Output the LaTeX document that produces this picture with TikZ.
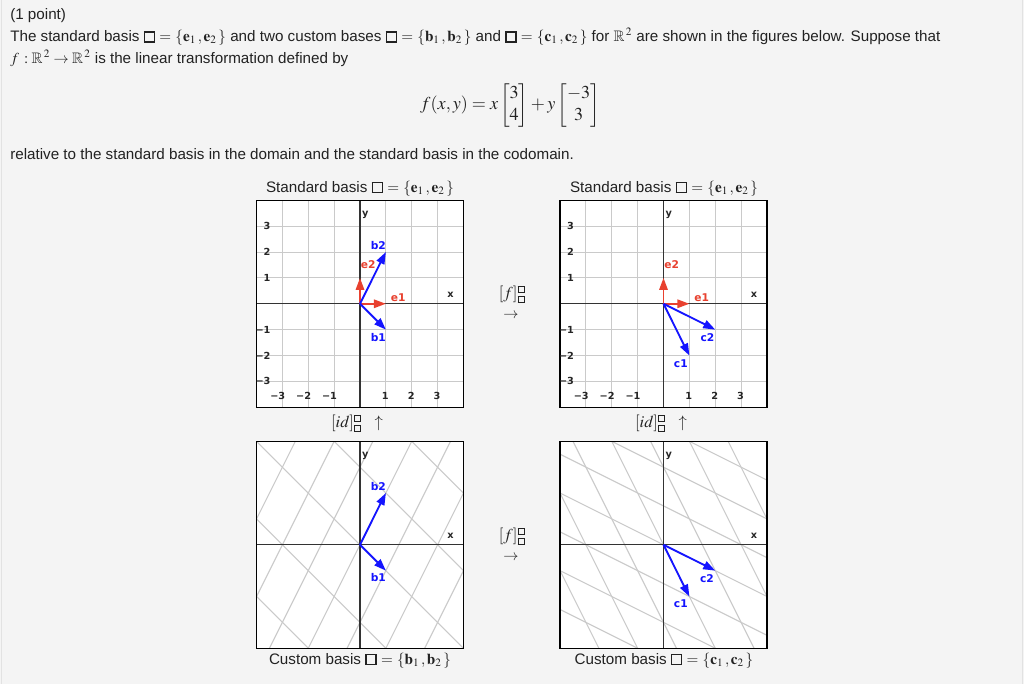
\documentclass[tikz,border=0pt]{standalone}
\usepackage{amsmath}
\usepackage{amssymb}
\usepackage{mathptmx}
\usepackage[no-math]{fontspec}
\setmainfont{Liberation Sans}
\newfontfamily\tickfont{DejaVu Sans}
\usepackage{tikz}
\usetikzlibrary{arrows.meta,calc}

\definecolor{pagegray}{HTML}{F4F4F4}
\definecolor{edgegray}{HTML}{E2E2E2}
\definecolor{gridgray}{HTML}{CACACA}
\definecolor{vecblue}{HTML}{1414FF}
\definecolor{vecred}{HTML}{E8412F}
\definecolor{inkgray}{HTML}{222222}

\newcommand{\nobox}{\mbox{\fboxsep=0pt\fboxrule=1.1pt\fbox{\rule{0pt}{6.4pt}\hspace{6.4pt}}}}
\newcommand{\minibox}{\mbox{\fboxsep=0pt\fboxrule=0.5pt\fbox{\rule{0pt}{4.2pt}\hspace{4.2pt}}}}

\begin{document}
\begin{tikzpicture}[x=0.75pt, y=-0.75pt,
    bodytext/.style ={anchor=base west, inner sep=0pt, text=inkgray, font=\fontsize{11.4}{13}\selectfont},
    caption/.style ={inner sep=0pt, text=inkgray, font=\fontsize{11.4}{13}\selectfont},
    gridline/.style ={gridgray, line width=0.8pt},
    axisline/.style ={black!80, line width=0.9pt},
    frame/.style ={black, line width=1.1pt},
    ticklabel/.style ={inner sep=0pt, text=black!85, font=\tickfont\bfseries\fontsize{7.3}{8}\selectfont},
    axislabel/.style ={inner sep=0pt, text=black!85, font=\tickfont\bfseries\fontsize{7.3}{8}\selectfont},
    bvec/.style ={vecblue, line width=1.4pt, -{Triangle[length=9pt, width=6.3pt]}},
    evec/.style ={vecred, line width=1.4pt, -{Triangle[length=9pt, width=6.3pt]}},
    blabel/.style ={inner sep=0pt, text=vecblue, font=\tickfont\bfseries\fontsize{8}{9}\selectfont},
    elabel/.style ={inner sep=0pt, text=vecred, font=\tickfont\bfseries\fontsize{8}{9}\selectfont}]

   % page
   \fill[pagegray] (0,0) rectangle (1024,684);
   \draw[edgegray] (1,0) -- (1,684);
   \draw[edgegray] (1022,0) -- (1022,684);
   \useasboundingbox (0,0) rectangle (1024,684);

   % question text
   \node[bodytext] (pts) at (10,19) {(1 point)};
   \node[bodytext] (line2) at (10,41) {The standard basis \nobox{} $=$ $\{\mathbf{e}_1\,,\mathbf{e}_2\,\}$ and two custom bases \nobox{} $=$ $\{\mathbf{b}_1\,,\mathbf{b}_2\,\}$ and \nobox{} $=$ $\{\mathbf{c}_1\,,\mathbf{c}_2\,\}$ for $\mathbb{R}^{\,2}$ are shown in the figures below. Suppose that};
   \node[bodytext] (line3) at (10,63) {$f\,:\mathbb{R}^{\,2}\rightarrow\mathbb{R}^{\,2}$ is the linear transformation defined by};
   \node[caption, font=\fontsize{13.6}{15}\selectfont] (formula) at (510,105) {\renewcommand{\arraystretch}{1.1}$f(x,y)=x\begin{bmatrix}3\\4\end{bmatrix}+y\begin{bmatrix}-3\\3\end{bmatrix}$};
   \node[bodytext] (line4) at (10,159) {relative to the standard basis in the domain and the standard basis in the codomain.};

   % top left: standard basis with b1, b2
   \node[caption] (titleA) at (360,188) {Standard basis \nobox{} $=$ $\{\mathbf{e}_1\,,\mathbf{e}_2\,\}$};
   \begin{scope}[shift={(360,303.5)}, x=19.4pt, y=19.4pt]
      \fill[white] (-4,-4) rectangle (4,4);
      \foreach \k in {-3,...,3} {
         \draw[gridline] (\k,-4) -- (\k,4);
         \draw[gridline] (-4,\k) -- (4,\k);
      }
      \draw[axisline] (-4,0) -- (4,0);
      \draw[axisline] (0,-4) -- (0,4);
      \draw[frame] (-4,-4) rectangle (4,4);
      \foreach \k/\t in {-3/−3,-2/−2,-1/−1,1/1,2/2,3/3} {
         \node[ticklabel, anchor=east] (ya\k) at (-3.45,\k) {\t};
         \node[ticklabel, anchor=east] (xa\k) at (\k+0.12,-3.55) {\t};
      }
      \node[axislabel] (xa) at (3.5,0.33) {x};
      \node[axislabel] (ya) at (0.2,3.45) {y};
      \coordinate (oa) at (0,0);
      \coordinate (ae1) at (1,0);
      \coordinate (ae2) at (0,1);
      \coordinate (ab1) at (1,-1);
      \coordinate (ab2) at (1,2);
      \draw[evec] (oa) -- (ae1);
      \draw[evec] (oa) -- (ae2);
      \draw[bvec] (oa) -- (ab1);
      \draw[bvec] (oa) -- (ab2);
      \node[elabel] (ae1l) at (1.48,0.22) {e1};
      \node[elabel] (ae2l) at (0.32,1.52) {e2};
      \node[blabel] (ab1l) at (0.71,-1.3) {b1};
      \node[blabel] (ab2l) at (0.71,2.26) {b2};
   \end{scope}

   % top right: standard basis with c1, c2
   \node[caption] (titleB) at (664,188) {Standard basis \nobox{} $=$ $\{\mathbf{e}_1\,,\mathbf{e}_2\,\}$};
   \begin{scope}[shift={(663.5,303.5)}, x=19.4pt, y=19.4pt]
      \fill[white] (-4,-4) rectangle (4,4);
      \foreach \k in {-3,...,3} {
         \draw[gridline] (\k,-4) -- (\k,4);
         \draw[gridline] (-4,\k) -- (4,\k);
      }
      \draw[axisline] (-4,0) -- (4,0);
      \draw[axisline] (0,-4) -- (0,4);
      \draw[frame] (-4,-4) rectangle (4,4);
      \foreach \k/\t in {-3/−3,-2/−2,-1/−1,1/1,2/2,3/3} {
         \node[ticklabel, anchor=east] (yb\k) at (-3.45,\k) {\t};
         \node[ticklabel, anchor=east] (xb\k) at (\k+0.12,-3.55) {\t};
      }
      \node[axislabel] (xb) at (3.5,0.33) {x};
      \node[axislabel] (yb) at (0.2,3.45) {y};
      \coordinate (ob) at (0,0);
      \coordinate (be1) at (1,0);
      \coordinate (be2) at (0,1);
      \coordinate (bc1) at (1,-2);
      \coordinate (bc2) at (2,-1);
      \draw[evec] (ob) -- (be1);
      \draw[evec] (ob) -- (be2);
      \draw[bvec] (ob) -- (bc1);
      \draw[bvec] (ob) -- (bc2);
      \node[elabel] (be1l) at (1.48,0.22) {e1};
      \node[elabel] (be2l) at (0.32,1.52) {e2};
      \node[blabel] (bc1l) at (0.67,-2.3) {c1};
      \node[blabel] (bc2l) at (1.7,-1.32) {c2};
   \end{scope}

   % transformation labels
   \node[caption, font=\fontsize{12.5}{14}\selectfont] (fTop) at (512,294) {$[f]^{\minibox}_{\minibox}$};
   \node[caption] (fTopArr) at (511,315) {$\rightarrow$};
   \node[caption, font=\fontsize{12.5}{14}\selectfont] (fBot) at (512,536) {$[f]^{\minibox}_{\minibox}$};
   \node[caption] (fBotArr) at (511,557) {$\rightarrow$};
   \node[caption, font=\fontsize{12.5}{14}\selectfont] (idA) at (357,423) {$[id]^{\minibox}_{\minibox}\ \ \uparrow$};
   \node[caption, font=\fontsize{12.5}{14}\selectfont] (idB) at (661,423) {$[id]^{\minibox}_{\minibox}\ \ \uparrow$};

   % bottom left: custom basis b
   \begin{scope}[shift={(360,544.5)}, x=19.4pt, y=19.4pt]
      \fill[white] (-4,-4) rectangle (4,4);
      \begin{scope}
         \clip (-4,-4) rectangle (4,4);
         \foreach \k in {-6,...,6} {
            \draw[gridline] ($(\k,-\k)+(-5,-10)$) -- ($(\k,-\k)+(5,10)$);
            \draw[gridline] ($(\k,2*\k)+(-10,10)$) -- ($(\k,2*\k)+(10,-10)$);
         }
      \end{scope}
      \draw[axisline] (-4,0) -- (4,0);
      \draw[axisline] (0,-4) -- (0,4);
      \draw[frame] (-4,-4) rectangle (4,4);
      \node[axislabel] (xc) at (3.5,0.33) {x};
      \node[axislabel] (yc) at (0.2,3.45) {y};
      \coordinate (oc) at (0,0);
      \coordinate (cb1) at (1,-1);
      \coordinate (cb2) at (1,2);
      \draw[bvec] (oc) -- (cb1);
      \draw[bvec] (oc) -- (cb2);
      \node[blabel] (cb1l) at (0.71,-1.25) {b1};
      \node[blabel] (cb2l) at (0.71,2.26) {b2};
   \end{scope}
   \node[caption] (capA) at (360,660) {Custom basis \nobox{} $=$ $\{\mathbf{b}_1\,,\mathbf{b}_2\,\}$};

   % bottom right: custom basis c
   \begin{scope}[shift={(663.5,544.5)}, x=19.4pt, y=19.4pt]
      \fill[white] (-4,-4) rectangle (4,4);
      \begin{scope}
         \clip (-4,-4) rectangle (4,4);
         \foreach \k in {-6,...,6} {
            \draw[gridline] ($(2*\k,-\k)+(-5,10)$) -- ($(2*\k,-\k)+(5,-10)$);
            \draw[gridline] ($(\k,-2*\k)+(-20,10)$) -- ($(\k,-2*\k)+(20,-10)$);
         }
      \end{scope}
      \draw[axisline] (-4,0) -- (4,0);
      \draw[axisline] (0,-4) -- (0,4);
      \draw[frame] (-4,-4) rectangle (4,4);
      \node[axislabel] (xd) at (3.5,0.33) {x};
      \node[axislabel] (yd) at (0.2,3.45) {y};
      \coordinate (od) at (0,0);
      \coordinate (dc1) at (1,-2);
      \coordinate (dc2) at (2,-1);
      \draw[bvec] (od) -- (dc1);
      \draw[bvec] (od) -- (dc2);
      \node[blabel] (dc1l) at (0.67,-2.28) {c1};
      \node[blabel] (dc2l) at (1.68,-1.32) {c2};
   \end{scope}
   \node[caption] (capB) at (664,660) {Custom basis \nobox{} $=$ $\{\mathbf{c}_1\,,\mathbf{c}_2\,\}$};
 \end{tikzpicture}
\end{document}
